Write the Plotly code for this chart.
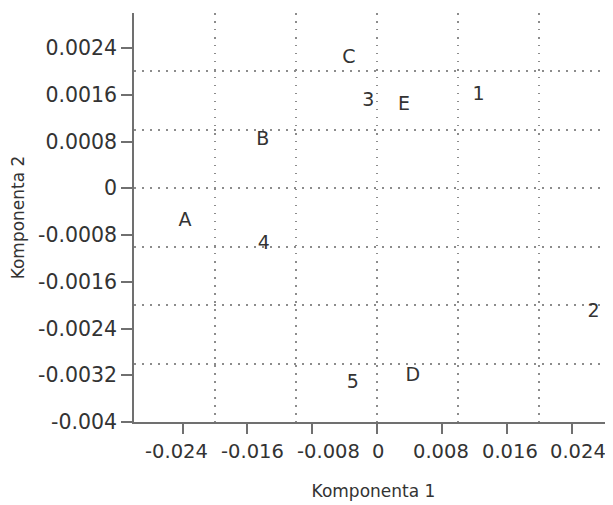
import plotly.graph_objects as go

labels = ["A", "B", "C", "D", "E", "1", "2", "3", "4", "5"]
comp1 = [-0.0237, -0.0141, -0.0035, 0.0044, 0.0033, 0.0125, 0.0267, -0.0011, -0.0140, -0.0030]
comp2 = [-0.00057, 0.00082, 0.00223, -0.00322, 0.00142, 0.00160, -0.00212, 0.00149, -0.00095, -0.00333]

x_ticks = [-0.024, -0.016, -0.008, 0, 0.008, 0.016, 0.024]
x_tick_text = ["-0.024", "-0.016", "-0.008", "0", "0.008", "0.016", "0.024"]
y_ticks = [-0.004, -0.0032, -0.0024, -0.0016, -0.0008, 0, 0.0008, 0.0016, 0.0024]
y_tick_text = ["-0.004", "-0.0032", "-0.0024", "-0.0016", "-0.0008", "0", "0.0008", "0.0016", "0.0024"]

x_range = [-0.03, 0.0291]
y_range = [-0.004, 0.003]

# style: horizontal pixel nudges of the x tick labels (the original spreads them apart)
x_label_nudge = [-6, 5, 16, 1, -1, 3, 6]

FONT = "DejaVu Sans"
TXT = "#333333"
AX = "#707070"

fig = go.Figure()
fig.add_trace(go.Scatter(
    x=comp1, y=comp2, text=labels, mode="text",
    textposition="middle center",
    textfont=dict(family=FONT, size=19, color=TXT),
    showlegend=False, hoverinfo="skip",
))
# invisible trace so the grid-only overlay axes render
fig.add_trace(go.Scatter(x=[None], y=[None], xaxis="x2", yaxis="y2",
                         mode="markers", showlegend=False, hoverinfo="skip"))

grid_style = dict(showgrid=True, gridcolor="#8c8c8c", gridwidth=1.5, griddash="1.5px,6.5px",
                  showticklabels=False, ticks="", zeroline=False, showline=False)

for v, t, dx in zip(x_ticks, x_tick_text, x_label_nudge):
    fig.add_annotation(x=v, y=0, xref="x", yref="paper", text=t, showarrow=False,
                       xanchor="center", yanchor="top", xshift=dx, yshift=-16,
                       font=dict(family=FONT, size=19.5, color=TXT))

fig.update_layout(
    width=605, height=497,
    margin=dict(l=126, r=0, t=5, b=83),
    paper_bgcolor="white", plot_bgcolor="white",
    font=dict(family=FONT, size=18, color=TXT),
    xaxis=dict(
        range=x_range, tickvals=x_ticks, showticklabels=False, automargin=False,
        showgrid=False, zeroline=False, showline=True, linecolor=AX, linewidth=1.5,
        ticks="outside", ticklen=10, tickcolor=AX, tickwidth=1.5,
        title=dict(text="Komponenta 1", font=dict(family=FONT, size=17, color=TXT), standoff=52),
    ),
    yaxis=dict(
        range=y_range, tickvals=y_ticks, ticktext=y_tick_text, tickangle=0, automargin=False,
        showgrid=False, zeroline=False, showline=True, linecolor=AX, linewidth=1.5,
        ticks="outside", ticklen=11, tickcolor=AX, tickwidth=1.5,
        tickfont=dict(family=FONT, size=20.5, color=TXT),
        title=dict(text="Komponenta 2", font=dict(family=FONT, size=17, color=TXT), standoff=12),
    ),
    xaxis2=dict(overlaying="x", anchor="y2", range=x_range, dtick=0.01, tick0=0, **grid_style),
    yaxis2=dict(overlaying="y", anchor="x2", range=y_range, dtick=0.001, tick0=0, **grid_style),
)

fig.write_html("out.html")
